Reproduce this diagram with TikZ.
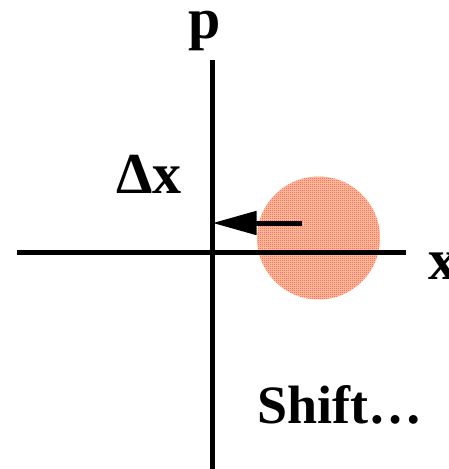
\documentclass[tikz,border=0pt]{standalone}
\usepackage{fontspec}
\setmainfont{Liberation Serif}
\usetikzlibrary{arrows.meta,patterns.meta}
\tikzdeclarepattern{
  name=stipple,
  type=uncolored,
  tile size={(2pt,2pt)},
  bottom left={(0pt,0pt)},
  top right={(2pt,2pt)},
  code={
    \fill (0pt,0pt) rectangle (1pt,1pt);
    \fill (1pt,1pt) rectangle (2pt,2pt);
  }
}
\tikzset{
  axis/.style={line width=5pt},
  arrow/.style={-{Triangle[length=44pt,width=23pt]}, line width=5pt},
  lbl/.style={inner sep=0pt, font=\fontsize{58}{60}\selectfont\bfseries},
  smalllbl/.style={inner sep=0pt, font=\fontsize{54}{56}\selectfont\bfseries},
  blob/.style={circle, minimum size=123pt, inner sep=0pt, fill=red!25!orange!30!white,
    postaction={pattern=stipple, pattern color=red!85!orange}}
}
\begin{document}
\begin{tikzpicture}[x=1pt,y=-1pt]
\useasboundingbox (0,0) rectangle (449,469);
\node[blob] (cloud) at (318.5,238) {};
\coordinate (ptop) at (212.5,60);
\coordinate (pbot) at (212.5,469);
\coordinate (xleft) at (17,252);
\coordinate (xright) at (406,252);
\coordinate (tail) at (302,223);
\coordinate (tip) at (212.5,223);
\draw[axis] (ptop) -- (pbot);
\draw[axis] (xleft) -- (xright);
\draw[arrow] (tail) -- (tip);
\node[lbl, anchor=base] (plbl) at (205,38) {p};
\node[lbl, anchor=base east] (dlbl) at (182,193) {Δx};
\node[lbl, anchor=base west] (xlbl) at (428,279) {x};
\node[smalllbl, anchor=base west] (shift) at (257,423) {Shift…};
\end{tikzpicture}
\end{document}
